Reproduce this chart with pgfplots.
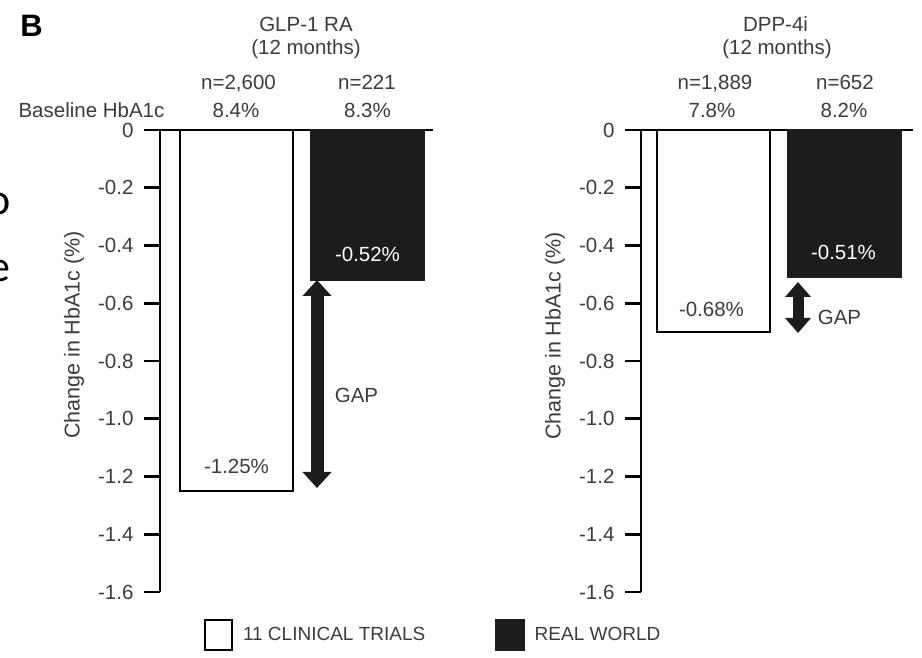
\documentclass[border=0pt]{standalone}
\usepackage{pgfplots}
\pgfplotsset{compat=1.18}
\usepackage{fontspec}
\setmainfont{Liberation Sans}
\newfontfamily\carlito{Carlito}
\usetikzlibrary{arrows.meta}
\definecolor{txt}{RGB}{60,60,60}
\definecolor{barblk}{RGB}{28,28,28}
\newcommand{\fs}{\fontsize{20.5}{24}\selectfont}
\begin{document}
\begin{tikzpicture}
\path[use as bounding box] (0,0) rectangle (922pt,657pt);
\pgfplotsset{
 panel/.style={
  scale only axis, height=462pt, ymin=-1.6, ymax=0,
  axis x line=top, axis y line=left,
  axis line style={-, line width=2.4pt, black},
  xtick=\empty,
  ytick={0,-0.2,-0.4,-0.6,-0.8,-1.0,-1.2,-1.4,-1.6},
  yticklabels={0,-0.2,-0.4,-0.6,-0.8,-1.0,-1.2,-1.4,-1.6},
  tick style={line width=2.8pt, black},
  major tick style={line width=2.8pt, black},
  tick align=outside, major tick length=16pt,
  yticklabel style={font=\fs, text=txt, xshift=-7pt},
  clip=false,
 },
 whitebar/.style={ybar, bar width=113pt, bar shift=0pt, fill=white, draw=black, line width=2.4pt},
 blackbar/.style={ybar, bar width=113pt, bar shift=0pt, fill=barblk, draw=barblk, line width=2.4pt},
}
% left panel
\begin{axis}[panel, at={(160pt,65pt)}, anchor=south west, width=273pt,
  xmin=0.416, xmax=2.5,
  legend columns=2,
  legend style={at={(0.159,-0.093)}, anchor=west, draw=none, fill=none,
    font=\fontsize{19}{22}\selectfont, text=txt, inner sep=0pt,
    /tikz/every odd column/.append style={column sep=8pt},
    /tikz/every even column/.append style={column sep=68pt}},
  legend image code/.code={\draw[#1, line width=2.4pt] (0pt,-15pt) rectangle (27pt,15pt);},
]
\addplot[whitebar] coordinates {(1,-1.25)};
\addlegendentry{11 CLINICAL TRIALS}
\addplot[blackbar] coordinates {(2,-0.52)};
\addlegendentry{REAL WORLD}
\end{axis}
% right panel
\begin{axis}[panel, at={(641pt,65pt)}, anchor=south west, width=272pt,
  xmin=0.447, xmax=2.523]
\addplot[whitebar] coordinates {(1,-0.70)};
\addplot[blackbar] coordinates {(2,-0.51)};
\end{axis}
% arrows
\draw[line width=13pt, barblk, {Triangle[width=28pt,length=16pt]}-{Triangle[width=28pt,length=16pt]}] (317pt,377pt) -- (317pt,169pt);
\draw[line width=11pt, barblk, {Triangle[width=25pt,length=15pt]}-{Triangle[width=25pt,length=15pt]}] (798pt,375pt) -- (798pt,324pt);
% texts
\node[anchor=base, font=\fontsize{31}{36}\selectfont\bfseries] at (31.5pt,620pt) {B};
\begin{scope}[every node/.style={anchor=base, font=\fs, text=txt, inner sep=0pt}]
\node at (306pt,625pt) {GLP-1 RA};
\node at (306pt,602pt) {(12 months)};
\node at (238.5pt,567pt) {n=2,600};
\node at (367pt,567pt) {n=221};
\node at (91.5pt,539pt) {Baseline HbA1c};
\node at (236pt,539pt) {8.4\%};
\node at (367.5pt,539pt) {8.3\%};
\node at (775.5pt,625pt) {DPP-4i};
\node at (777pt,602pt) {(12 months)};
\node at (715pt,567pt) {n=1,889};
\node at (845pt,567pt) {n=652};
\node at (712pt,539pt) {7.8\%};
\node at (844pt,539pt) {8.2\%};
\node[text=white] at (367.5pt,395pt) {-0.52\%};
\node at (236.5pt,183pt) {-1.25\%};
\node[text=white] at (843.5pt,397pt) {-0.51\%};
\node at (711.5pt,340pt) {-0.68\%};
\node at (356.5pt,254pt) {GAP};
\node at (839.5pt,332pt) {GAP};
\end{scope}
\node[rotate=90, font=\fontsize{21.5}{25}\selectfont, text=txt, inner sep=0pt] at (74pt,322pt) {Change in HbA1c (\%)};
\node[rotate=90, font=\fontsize{21.5}{25}\selectfont, text=txt, inner sep=0pt] at (555pt,321pt) {Change in HbA1c (\%)};
\node[anchor=base east, font=\carlito\fontsize{44}{50}\selectfont, inner sep=0pt] at (11pt,442pt) {o};
\node[anchor=base east, font=\carlito\fontsize{44}{50}\selectfont, inner sep=0pt] at (11pt,375pt) {e};
\end{tikzpicture}
\end{document}
